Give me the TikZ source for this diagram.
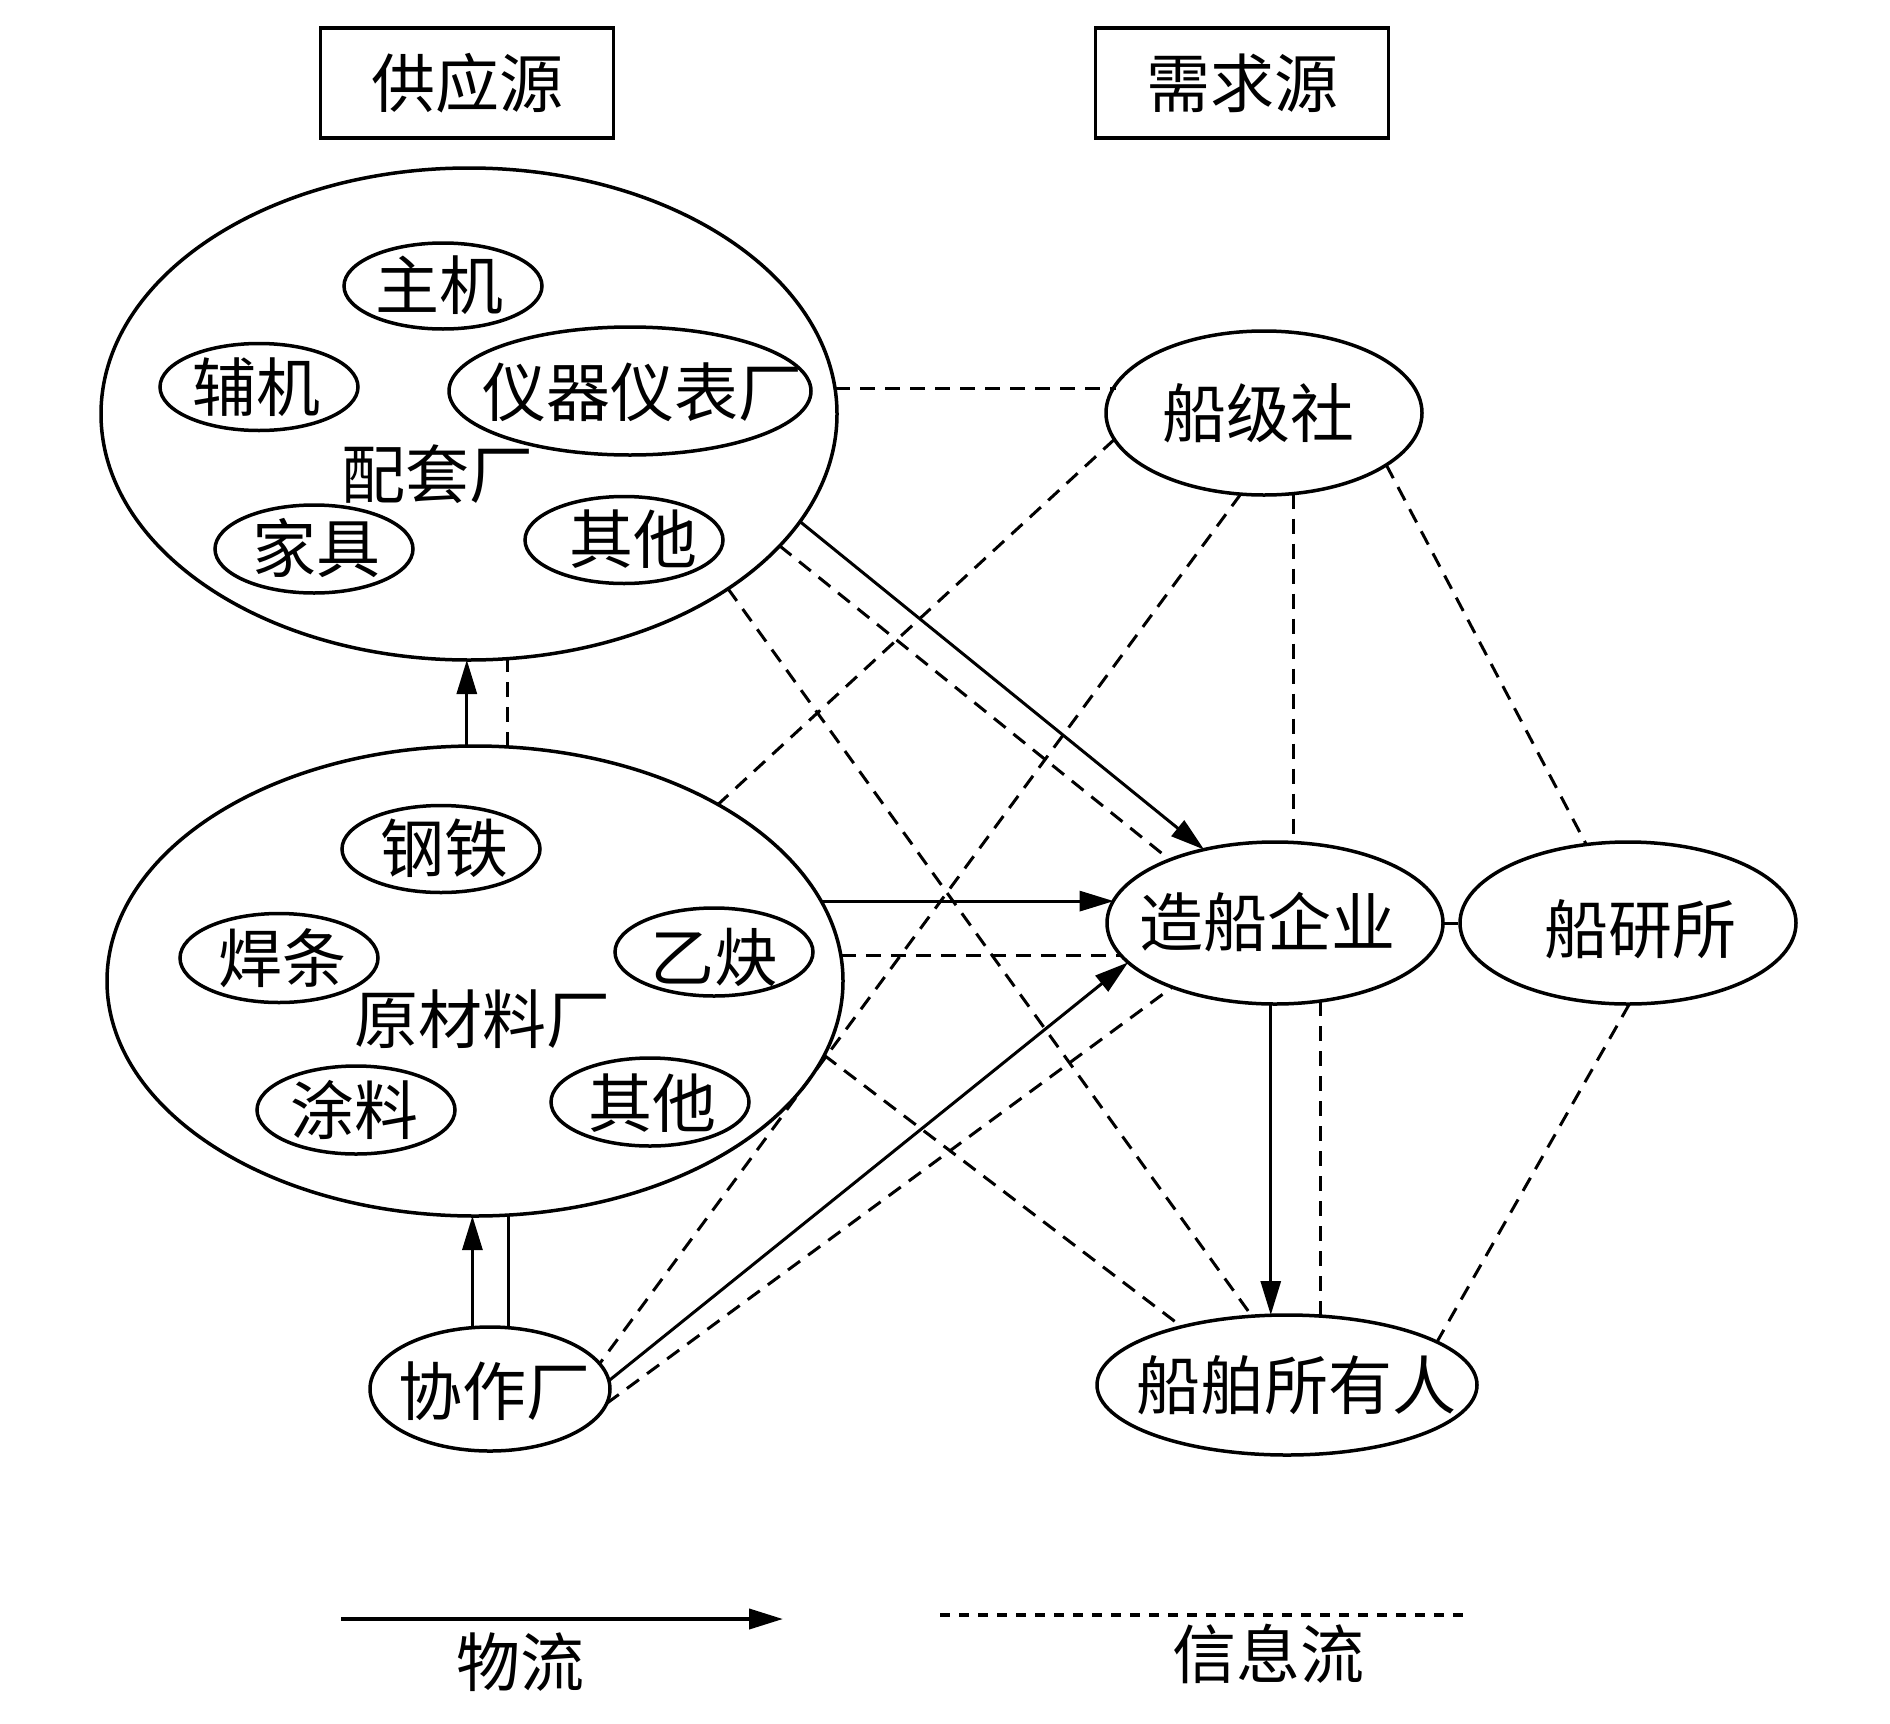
\documentclass[tikz,border=0pt]{standalone}
\usepackage{fontspec}
\setmainfont{Noto Sans CJK SC}
\usetikzlibrary{shapes.geometric,arrows.meta,calc}
\begin{document}
\begin{tikzpicture}[x=1pt,y=-1pt,
  oval/.style={ellipse, draw, line width=3.5pt, inner sep=0pt, outer sep=0pt},
  srcbox/.style={rectangle, draw, line width=3.2pt, inner sep=0pt, outer sep=0pt,
     minimum width=293pt, minimum height=110pt, font=\fontsize{64pt}{70pt}\selectfont},
  txt/.style={inner sep=0pt, font=\fontsize{64pt}{70pt}\selectfont},
  info/.style={line width=3pt, dash pattern=on 15pt off 10pt},
  flow/.style={line width=3pt, -{Triangle[length=34pt,width=20pt]}},
  plain/.style={line width=3pt}]
\useasboundingbox (0,0) rectangle (1890,1724);

% title boxes
\node[srcbox] (gys) at (467,83) {供应源};
\node[srcbox] (xqy) at (1242,83) {需求源};

% big ellipses
\node[oval, minimum width=736pt, minimum height=492pt] (PT) at (469,414) {};
\node[oval, minimum width=736pt, minimum height=470pt] (YCL) at (475,981) {};
\node[oval, minimum width=240pt, minimum height=124pt] (XZC) at (490,1389) {};
\node[oval, minimum width=316pt, minimum height=164pt] (CJS) at (1264,413) {};
\node[oval, minimum width=336pt, minimum height=162pt] (ZC) at (1275,923) {};
\node[oval, minimum width=336pt, minimum height=162pt] (CYS) at (1628,923) {};
\node[oval, minimum width=380pt, minimum height=140pt] (CB) at (1287,1385) {};

% small ellipses
\node[oval, minimum width=198pt, minimum height=86pt] (zj) at (443,286) {};
\node[oval, minimum width=198pt, minimum height=87pt] (fj) at (259,387) {};
\node[oval, minimum width=362pt, minimum height=128pt] (yq) at (630,391) {};
\node[oval, minimum width=198pt, minimum height=88pt] (jj) at (314,549) {};
\node[oval, minimum width=198pt, minimum height=87pt] (qt1) at (624,540) {};
\node[oval, minimum width=198pt, minimum height=87pt] (gt) at (441,849) {};
\node[oval, minimum width=198pt, minimum height=89pt] (ht) at (279,958) {};
\node[oval, minimum width=198pt, minimum height=88pt] (yqu) at (714,952) {};
\node[oval, minimum width=198pt, minimum height=88pt] (tl) at (356,1110) {};
\node[oval, minimum width=198pt, minimum height=88pt] (qt2) at (650,1102) {};

% texts
\node[txt] (t-zj) at (439,285) {主机};
\node[txt] (t-fj) at (256,387) {辅机};
\node[txt] (t-yq) at (642,392) {仪器仪表厂};
\node[txt] (t-pt) at (437,474) {配套厂};
\node[txt] (t-jj) at (316,548) {家具};
\node[txt] (t-qt1) at (633,539) {其他};
\node[txt] (t-gt) at (444,848) {钢铁};
\node[txt] (t-ht) at (282,958) {焊条};
\node[txt] (t-yqu) at (714,957) {乙炔};
\node[txt] (t-ycl) at (482,1019) {原材料厂};
\node[txt] (t-tl) at (354,1110) {涂料};
\node[txt] (t-qt2) at (652,1103) {其他};
\node[txt] (t-xzc) at (494,1391) {协作厂};
\node[txt] (t-cb) at (1296,1385) {船舶所有人};
\node[txt] (t-cjs) at (1258,413) {船级社};
\node[txt] (t-zc) at (1267,922) {造船企业};
\node[txt] (t-cys) at (1640,929) {船研所};

% connectors: information (dashed)
\draw[info] (PT.4.8) -- (PT.4.8 -| CJS.169.1);
\draw[info] (PT.-23.9) -- (ZC.149.4);
\draw[info] (PT.-34.25) -- (CB.117.9);
\draw[info] (CJS.190.9) -- (YCL.36.15);
\draw[info] (CJS.254.8) -- (XZC.13.9);
\draw[info] (CJS.-70.9) -- (CJS.-70.9 |- ZC.north);
\draw[info] (CJS.-23.5) -- (CYS.118.3);
\draw[info] (ZC.east) -- (CYS.west);
\draw[info] (YCL.4.8) -- (YCL.4.8 -| ZC.192.0);
\draw[info] (YCL.-12.1) -- (CB.151.4);
\draw[info] (XZC.-7.4) -- (ZC.212.8);
\draw[info] (YCL.82.7) -- (YCL.82.7 |- PT.south);
\draw[info] (ZC.-60.0) -- (ZC.-60.0 |- CB.north);
\draw[info] (CYS.-89.3) -- (CB.16.7);

% connectors: material flow (solid)
\draw[flow] (PT.-18.12) -- (ZC.134.2);
\draw[flow] (YCL.13.8) -- (YCL.13.8 -| ZC.172.7);
\draw[flow] (XZC.4.7) -- (ZC.195.0);
\draw[flow] (YCL.92.7) -- (YCL.92.7 |- PT.south);
\draw[flow] (XZC.106.4) -- (XZC.106.4 |- YCL.south);
\draw[plain] (XZC.73.6) -- (XZC.73.6 |- YCL.south);
\draw[flow] (ZC.267.2) -- (ZC.267.2 |- CB.north);

% legend
\coordinate (la1) at (341,1619);
\coordinate (la2) at (783,1619);
\coordinate (lb1) at (940,1615);
\coordinate (lb2) at (1471,1615);
\draw[flow, line width=4pt] (la1) -- (la2);
\draw[line width=4pt, dash pattern=on 10pt off 9pt] (lb1) -- (lb2);
\node[txt] (t-wl) at (520,1662) {物流};
\node[txt] (t-xxl) at (1268,1654) {信息流};
\end{tikzpicture}
\end{document}
